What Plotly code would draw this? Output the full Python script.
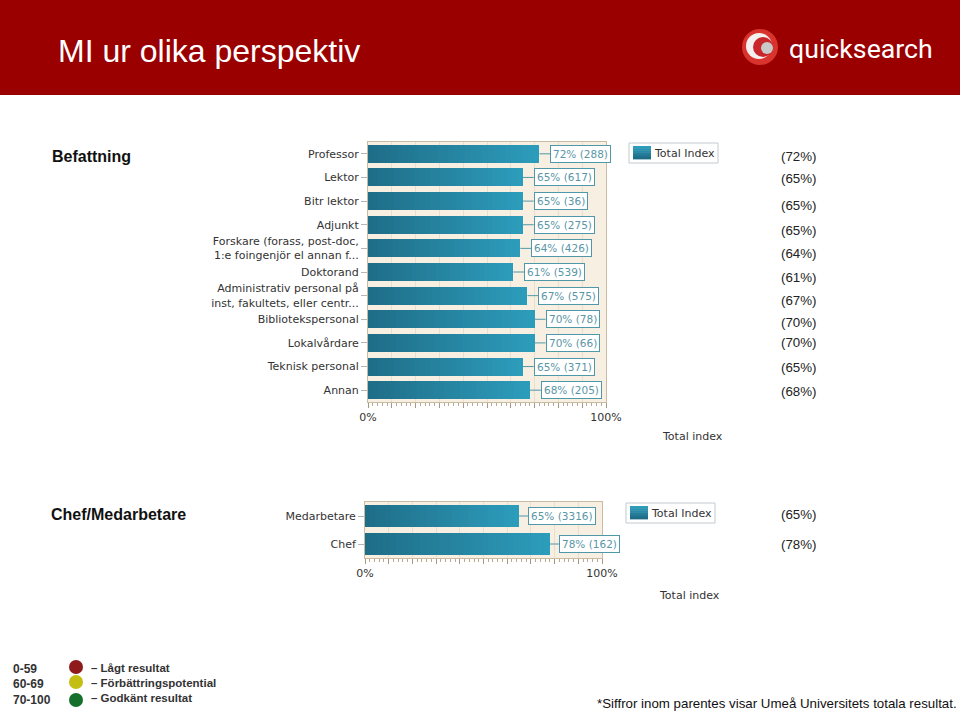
import plotly.graph_objects as go

W, H = 960, 712
# ---- data ----
role_labels = ["Professor", "Lektor", "Bitr lektor", "Adjunkt",
               "Forskare (forass, post-doc,<br>1:e foingenjör el annan f...", "Doktorand",
               "Administrativ personal på<br>inst, fakultets, eller centr...", "Bibliotekspersonal",
               "Lokalvårdare", "Teknisk personal", "Annan"]
role_values = [72, 65, 65, 65, 64, 61, 67, 70, 70, 65, 68]
role_counts = [288, 617, 36, 275, 426, 539, 575, 78, 66, 371, 205]
role_ref = ["(72%)", "(65%)", "(65%)", "(65%)", "(64%)", "(61%)", "(67%)", "(70%)", "(70%)", "(65%)", "(68%)"]
boss_labels = ["Medarbetare", "Chef"]
boss_values = [65, 78]
boss_counts = [3316, 162]
boss_ref = ["(65%)", "(78%)"]
x_ticks = [0, 10, 20, 30, 40, 50, 60, 70, 80, 90, 100]
x_ticktext = ["0%", "", "", "", "", "", "", "", "", "", "100%"]
bands = ["0-59", "60-69", "70-100"]
band_names = ["– Lågt resultat", "– Förbättringspotential", "– Godkänt resultat"]

# ---- layout positions (pixels) ----
role_ref_y = [156, 179, 205, 230, 254, 277, 301, 322, 343, 367, 391]
boss_ref_y = [514, 544]
band_y = [669, 684, 700]
name_y = [668, 683, 698]
dot_y = [667, 682, 700]
dot_col = ["#8e1a1c", "#c4bd12", "#15702c"]

px = lambda v: v / W
py = lambda v: 1 - v / H

GRAD_A, GRAD_B = (31, 108, 134), (44, 156, 187)
N = 30
def grad(t):
    return "rgb(%d,%d,%d)" % tuple(round(a + (b - a) * t) for a, b in zip(GRAD_A, GRAD_B))

fig = go.Figure()
def add_chart(labels, values, xa, ya, width):
    for i in range(N):
        f = 1 - i / N
        fig.add_trace(go.Bar(
            y=labels, x=[v * f for v in values], orientation="h", width=width,
            marker=dict(color=grad(f), line=dict(width=0)),
            xaxis=xa, yaxis=ya, name="Total Index", showlegend=False, hoverinfo="skip"))

add_chart(role_labels, role_values, "x", "y", 0.76)
add_chart(boss_labels, boss_values, "x2", "y2", 0.78)

ann = []
def label(x, y, text, size=13, color="#222222", anchor="left", bold=False, family="Liberation Sans"):
    ann.append(dict(x=px(x - 2 if anchor == "left" else x), y=py(y), xref="paper", yref="paper", text=text,
                    showarrow=False, xanchor=anchor, yanchor="middle",
                    font=dict(size=size, color=color, family=family, weight=700 if bold else 400)))

def value_labels(labels, values, counts, xa, ya, stem):
    for c, v, n in zip(labels, values, counts):
        ann.append(dict(x=v, y=c, xref=xa, yref=ya, text=f"{v}% ({n})", showarrow=True,
                        arrowhead=0, arrowwidth=1, arrowcolor="#4f98aa", ax=stem, ay=0, axref="pixel", ayref="pixel",
                        xanchor="left", standoff=0, bgcolor="white", bordercolor="#4f98aa", borderwidth=1, borderpad=2,
                        font=dict(size=10.5, color="#5a96a6", family="DejaVu Sans")))

value_labels(role_labels, role_values, role_counts, "x", "y", 11)
value_labels(boss_labels, boss_values, boss_counts, "x2", "y2", 9)

label(58, 51, "MI ur olika perspektiv", 32, "white")
label(52, 156, "Befattning", 16, "#111111", bold=True)
label(51, 514, "Chef/Medarbetare", 16, "#111111", bold=True)
for t, y in zip(role_ref, role_ref_y):
    label(798, y, t, 13.3, anchor="center")
for t, y in zip(boss_ref, boss_ref_y):
    label(798, y, t, 13.3, anchor="center")
label(692, 436, "Total index", 11, "#333333", "center", family="DejaVu Sans")
label(689, 595, "Total index", 11, "#333333", "center", family="DejaVu Sans")
label(597, 703, "*Siffror inom parentes visar Umeå Universitets totala resultat.", 13.3, "#111111")
label(789, 49, "quicksearch", 26.7, "white", family="Roboto")
label(654, 153, "Total Index", 11, "#333333", family="DejaVu Sans")
label(651, 513, "Total Index", 11, "#333333", family="DejaVu Sans")
for t, y in zip(bands, band_y):
    label(13, y, t, 12, "#333333", bold=True)
for t, y in zip(band_names, name_y):
    label(91, y, t, 11.5, "#333333", bold=True)

def circle(cx, cy, r, col):
    return dict(type="circle", xref="paper", yref="paper", x0=px(cx - r), x1=px(cx + r),
                y0=py(cy + r), y1=py(cy - r), fillcolor=col, line=dict(width=0), layer="above")

def rect(x0, y0, x1, y1, fill, line=None):
    return dict(type="rect", xref="paper", yref="paper", x0=px(x0), x1=px(x1), y0=py(y1), y1=py(y0),
                fillcolor=fill, line=dict(width=1 if line else 0, color=line), layer="above")

def legend_box(x, y):
    out = [rect(x, y, x + 89, y + 20, "white", "#c4cace")]
    for i in range(6):
        out.append(rect(x + 4, y + 3 + i * 13 / 6, x + 22, y + 3 + (i + 1) * 13 / 6 + .4, grad(1 - i / 5)))
    return out

shapes = [dict(rect(0, 0, W, 95, "#9b0000"), layer="below")]
shapes += [circle(760, 47, 18, "#d8332c"), circle(759, 46, 13, "#f4f0f0"),
           circle(763, 47, 10, "#c8262a"), circle(767, 48, 6, "#c9c9c9")]
shapes += [circle(76, y, 7, c) for y, c in zip(dot_y, dot_col)]
shapes += legend_box(629, 143) + legend_box(626, 503)

def xaxis(x0, x1, anchor):
    return dict(domain=[px(x0), px(x1)], range=[0, 100], anchor=anchor, automargin=False,
                tickmode="array", tickvals=x_ticks,
                ticktext=x_ticktext, ticks="outside", ticklen=5, tickcolor="#a89a80", showgrid=True,
                gridcolor="#e9dfcb", showline=True, linecolor="#c9bca2", mirror=True, zeroline=False,
                minor=dict(dtick=2, ticks="outside", ticklen=3, tickcolor="#b8ab92", showgrid=False),
                tickfont=dict(size=11, color="#333333", family="DejaVu Sans"))

def yaxis(y0, y1, anchor):
    return dict(domain=[py(y1), py(y0)], anchor=anchor, automargin=False, autorange="reversed", type="category",
                ticks="outside", ticklen=6, tickcolor="#b5b5b5", showline=True, linecolor="#c9bca2",
                mirror=True, showgrid=False, tickfont=dict(size=11, color="#333333", family="DejaVu Sans"))

fig.update_layout(
    width=W, height=H, margin=dict(l=0, r=0, t=0, b=0, pad=0), paper_bgcolor="white", plot_bgcolor="#f6efe2",
    barmode="overlay", bargap=0, annotations=ann, shapes=shapes, showlegend=False,
    xaxis=xaxis(368, 606, "y"), yaxis=yaxis(142, 402, "x"),
    xaxis2=xaxis(365, 602, "y2"), yaxis2=yaxis(502, 558, "x2"))

fig.write_html("out.html", config=dict(displayModeBar=False),
               post_script="document.body.style.margin='0';document.body.style.overflow='hidden';")
